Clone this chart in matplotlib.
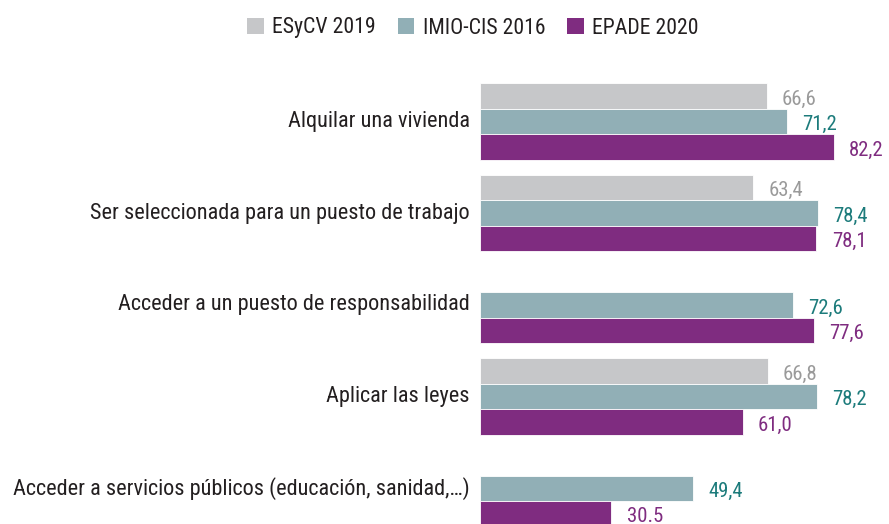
import numpy as np
import matplotlib
matplotlib.use("Agg")
import matplotlib.pyplot as plt
from matplotlib.patches import Patch
from matplotlib import font_manager

categories = [
    "Alquilar una vivienda",
    "Ser seleccionada para un puesto de trabajo",
    "Acceder a un puesto de responsabilidad",
    "Aplicar las leyes",
    "Acceder a servicios públicos (educación, sanidad,…)",
]
series_names = ["ESyCV 2019", "IMIO-CIS 2016", "EPADE 2020"]
esycv = [66.6, 63.4, np.nan, 66.8, np.nan]
imio = [71.2, 78.4, 72.6, 78.2, 49.4]
epade = [82.2, 78.1, 77.6, 61.0, 30.5]
esycv_labels = ["66,6", "63,4", "", "66,8", ""]
imio_labels = ["71,2", "78,4", "72,6", "78,2", "49,4"]
epade_labels = ["82,2", "78,1", "77,6", "61,0", "30.5"]

bar_colors = ["#C6C7C9", "#91AFB6", "#7F2C80"]
label_colors = ["#9A9A9A", "#1C7B7B", "#7F2C80"]
text_color = "#231F20"

names = {f.name for f in font_manager.fontManager.ttflist}
prefs = ["Roboto Condensed", "Archivo Narrow", "PT Sans Narrow", "Fira Sans Condensed",
         "Barlow Semi Condensed", "IBM Plex Sans Condensed", "Open Sans Condensed",
         "Liberation Sans Narrow", "DejaVu Sans"]
family = next(p for p in prefs if p in names)
plt.rcParams["font.family"] = [family, "DejaVu Sans"]

W, H = 889, 524
fig = plt.figure(figsize=(W / 100, H / 100), dpi=100)
renderer = fig.canvas.get_renderer()

def width_px(s, size):
    t = fig.text(0, 0, s, fontsize=size)
    w = t.get_window_extent(renderer).width
    t.remove()
    return w

# calibrate sizes to the reference text widths
cat_fs = 15 * 380 / width_px(categories[1], 15)
val_fs = 15 * 35 / width_px("66,6", 15)
leg_fs = 15 * 123 / width_px("IMIO-CIS 2016", 15)

x0 = 480
xmax = 95.0
px_per_unit = 4.307
ax_w = xmax * px_per_unit
group_px = 91.7
top_center = 121.5
ax_top = top_center - group_px / 2
ax_bot = top_center + 4 * group_px + group_px / 2
ax = fig.add_axes([x0 / W, (H - ax_bot) / H, ax_w / W, (ax_bot - ax_top) / H])
ax.set_xlim(0, xmax)
ax.set_ylim(4.5, -0.5)
ax.axis("off")

h = 25.5 / group_px
y = np.arange(len(categories))
all_vals = [esycv, imio, epade]
all_labels = [esycv_labels, imio_labels, epade_labels]
for k, (vals, labs) in enumerate(zip(all_vals, all_labels)):
    yy = y + (k - 1) * h
    ax.barh(yy, vals, height=h, color=bar_colors[k], edgecolor="white", linewidth=0.6)
    for yi, v, lab in zip(yy, vals, labs):
        if np.isnan(v):
            continue
        ax.annotate(lab, (v, yi), xytext=(11, -2.2), textcoords="offset points",
                    ha="left", va="center", fontsize=val_fs, color=label_colors[k])

for yi, cat in zip(y, categories):
    ax.annotate(cat, (0, yi), xytext=(-7.5, 0), textcoords="offset points",
                ha="right", va="center", fontsize=cat_fs, color=text_color)

handles = [Patch(facecolor=c, edgecolor="none") for c in bar_colors]
fig.legend(handles, series_names, loc="center", bbox_to_anchor=(473 / W, 1 - 28 / H),
           ncol=3, frameon=False, fontsize=leg_fs, handlelength=0.75, handleheight=0.75,
           handletextpad=0.4, columnspacing=1.0, labelcolor=text_color)

fig.savefig("out.png", dpi=100, facecolor="white")
